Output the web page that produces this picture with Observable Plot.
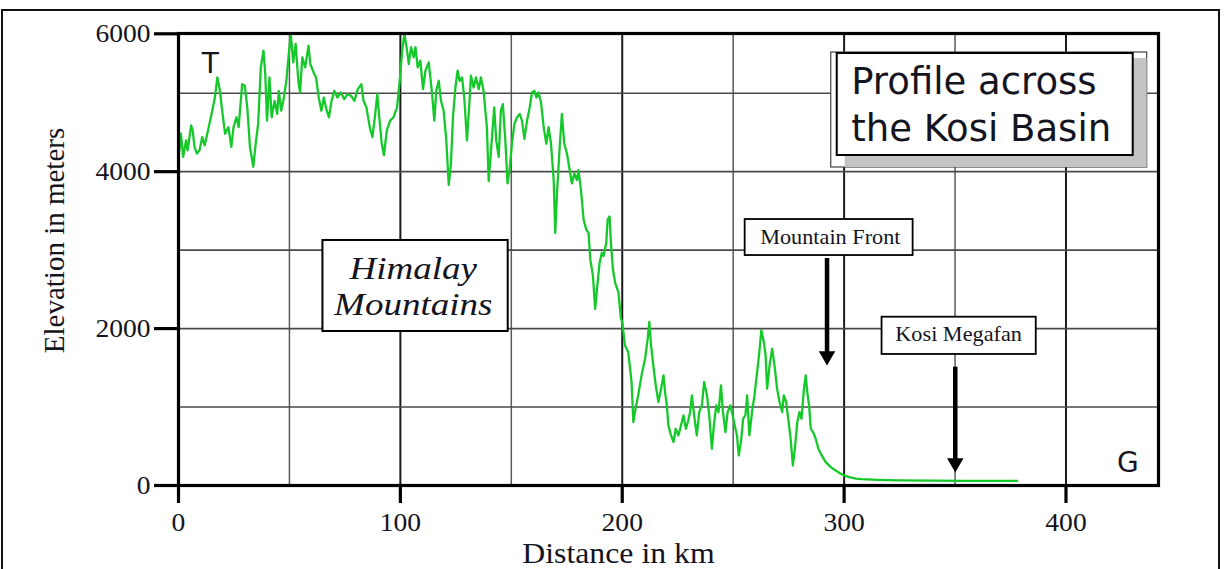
<!DOCTYPE html>
<html><head><meta charset="utf-8">
<script src="https://cdn.jsdelivr.net/npm/d3@7"></script>
<script src="https://cdn.jsdelivr.net/npm/@observablehq/plot@0.6"></script>
<style>
html,body{margin:0;padding:0;background:#fff;}
#wrap{position:relative;width:1225px;height:569px;overflow:hidden;background:#fff;}
#chart{position:absolute;left:0;top:0;}
#border{position:absolute;left:1px;top:9px;width:1219px;height:640px;border:2px solid #111;box-sizing:border-box;}
</style></head><body>
<div id="wrap"><div id="chart"></div><div id="border"></div></div>
<script>
// ---- data: profile across the Kosi Basin ----
const distanceKm = [
0.3,1.1,2.1,3.4,4.1,5.7,6.4,7.2,8.3,9.5,10.7,11.8,13.3,14.9,16.4,17.5,18.7,19.5,21.0,22.5,23.8,24.8,26.1,27.1,28.7,29.9,31.0,32.2,33.7,34.8,35.9,37.1,38.3,39.1,39.9,41.0,42.0,43.3,44.5,45.2,46.3,47.5,48.6,49.7,50.6,51.7,52.8,54.0,54.8,55.8,57.1,58.6,59.4,60.9,62.0,63.2,64.4,65.5,66.6,67.8,69.0,70.2,71.6,73.2,74.7,76.2,77.8,79.3,80.8,82.4,83.4,84.7,86.2,87.4,88.5,89.6,90.5,91.6,92.6,93.9,95.4,96.9,98.5,99.7,
100.8,101.8,102.7,103.8,104.8,106.0,106.8,107.8,109.0,110.2,111.3,112.8,114.3,115.3,116.2,117.3,118.3,119.5,120.7,121.8,122.8,123.7,124.8,125.8,126.7,127.8,128.8,130.0,130.9,131.8,133.0,134.1,135.3,136.3,137.5,138.3,139.0,139.8,141.3,142.3,143.2,144.3,145.3,146.2,147.3,148.3,149.2,150.3,151.4,152.6,153.8,154.8,155.9,157.1,158.3,159.3,160.4,161.3,162.3,163.4,164.6,165.8,166.8,167.9,169.1,169.8,170.6,171.8,172.8,173.9,175.1,176.3,177.3,178.4,179.6,180.3,181.4,182.6,183.8,184.8,185.6,186.8,187.8,188.9,189.8,190.8,191.6,192.8,193.4,194.3,194.9,195.8,196.8,198.3,199.4,
200.0,201.2,202.7,204.2,205.0,206.0,207.2,208.7,210.3,211.5,212.2,213.0,214.0,215.1,216.3,217.5,218.6,219.3,220.1,220.8,222.0,223.1,224.1,225.3,226.5,227.6,228.7,229.6,230.6,231.4,232.4,233.6,234.7,235.9,236.9,238.2,239.2,240.4,241.3,242.4,243.4,244.5,245.4,246.5,247.5,248.7,249.8,250.7,251.7,252.5,253.5,254.5,255.5,256.3,257.3,258.5,259.6,260.8,261.8,262.7,263.8,264.6,265.3,266.4,267.6,268.8,269.8,270.9,272.1,272.8,273.9,274.8,275.9,276.9,277.8,278.9,279.9,280.8,281.9,282.7,283.4,284.2,285.0,286.0,287.2,288.4,289.9,291.7,294.0,296.2,298.5,300.0,302.3,305.3,
308,315,325,340,355,370,378
];
const elevationM = [
4250,4483,4189,4399,4273,4588,4525,4315,4231,4273,4441,4336,4525,4735,4945,5265,5040,4819,4483,4567,4315,4567,4693,4567,5153,5124,4819,4315,4063,4357,4609,5435,5718,5322,4651,5265,4693,4903,4735,5040,4777,4945,5209,5661,6000,5520,5831,5209,5011,5604,5435,5802,5491,5350,5265,4945,4777,4945,4798,4693,4903,5040,4945,5011,4924,4987,4966,4903,5068,5153,4903,4819,4567,4441,4693,4987,4693,4357,4210,4525,4651,4693,4819,5209,
5715,6000,5800,5491,5774,5604,5774,5435,5548,5068,5378,5520,4987,4651,5040,5209,4903,4777,4398,3830,4103,4693,5096,5378,5209,5265,4945,4398,4777,5294,5096,5265,5068,5265,5040,4777,4566,3880,4440,4819,4398,4188,4777,4861,4398,3851,4019,4356,4608,4693,4735,4651,4419,4651,4819,5011,5040,4945,5011,4882,4566,4356,4566,4356,3893,3220,3724,4314,4735,4356,4229,4019,3851,3977,3893,4019,3766,3387,3261,3219,2882,2672,2251,2587,2840,2966,2924,3093,3387,3429,3093,2756,2587,2461,2124,
2085,1787,1702,1319,809,979,1149,1404,1617,1872,2085,1787,1532,1277,1064,1234,1404,1191,1021,766,638,553,723,638,766,894,723,809,936,1149,894,638,936,1021,1319,1149,894,468,766,1021,936,1277,936,681,936,1021,894,766,638,383,553,851,894,1149,638,936,1149,1447,1702,1979,1830,1660,1234,1532,1745,1489,1234,1064,936,1149,1064,851,596,255,468,809,936,851,1234,1404,1191,1021,723,681,596,468,383,298,234,191,149,128,106,88,
80,72,66,62,60,58,58
];

// ---- axes ----
const xTicks = [0, 100, 200, 300, 400];
const yTicks = [0, 2000, 4000, 6000];
const xMajorGrid = [100, 200, 300, 400];
const xMinorGrid = [50, 150, 250, 350];
const yGrid = [1000, 2000, 3000, 4000, 5000];
const xTitle = "Distance in km";
const yTitle = "Elevation in meters";

// ---- annotations (in data units: km, m) ----
const titleText = "Profile across\nthe Kosi Basin";
const titleBox = {x1: 296.9, x2: 430.3, y1: 4206, y2: 5668};
const titleOuter = {x1: 294.2, x2: 436.6, y1: 4053, y2: 5685};
const titleShadow = {x1: 300.5, x2: 436.6, y1: 4053, y2: 5584};
const titleAnchor = {x: 303.2, y: 4397};

const regionText = "Himalay\nMountains";
const regionBox = {x1: 65.1, x2: 148.6, y1: 1963, y2: 3123};
const regionAnchor = {x: 105.8, y: 2167};

const calloutLabels = ["Mountain Front", "Kosi Megafan"];
const calloutX1 = [255.4, 317.1];
const calloutX2 = [331.1, 386.6];
const calloutY1 = [2931, 1670];
const calloutY2 = [3390, 2145];
const calloutTextX = [293.8, 351.6];
const calloutTextY = [3081, 1848];
const arrowX = [292.3, 350.1];
const arrowTop = [2893, 1508];
const arrowTip = [1529, 166];

const endLabels = ["T", "G"];
const endX = [14.3, 427.9];
const endY = [5348, 166];

// ---- build ----
const profile = distanceKm.map((d, i) => ({km: d, m: elevationM[i]}));
const callouts = calloutLabels.map((t, i) => ({
  t, x1: calloutX1[i], x2: calloutX2[i], y1: calloutY1[i], y2: calloutY2[i],
  tx: calloutTextX[i], ty: calloutTextY[i],
  ax: arrowX[i], top: arrowTop[i], tip: arrowTip[i], shaftEnd: arrowTip[i] + 100
}));
const ends = endLabels.map((t, i) => ({t, x: endX[i], y: endY[i]}));

const serif = "'Liberation Serif','Times New Roman',Times,serif";
const sans = "'DejaVu Sans',Verdana,sans-serif";
const ink = "#141420";
const fmt = d => String(d);

const plot = Plot.plot({
  width: 1225, height: 569,
  marginLeft: 178, marginRight: 67, marginTop: 33, marginBottom: 84,
  style: {background: "transparent", overflow: "visible"},
  x: {type: "linear", domain: [0, 441.7]},
  // the reference's vertical axis is compressed above 5000 m
  y: {type: "linear", domain: [0, 5000, 6000], range: [485, 92.7, 33.3]},
  marks: [
    Plot.gridX(xMinorGrid, {stroke: "#5a5a5a", strokeWidth: 1.5, strokeOpacity: 1}),
    Plot.gridX(xMajorGrid, {stroke: "#1a1a1a", strokeWidth: 2, strokeOpacity: 1}),
    Plot.gridY(yGrid, {stroke: "#4a4a4a", strokeWidth: 1.6, strokeOpacity: 1}),
    Plot.line(profile, {x: "km", y: "m", stroke: "#16c92b", strokeWidth: 2.3}),

    // title box with shadow
    Plot.rect([titleOuter], {x1: "x1", x2: "x2", y1: "y1", y2: "y2", fill: "white", stroke: "#444", strokeWidth: 1.2}),
    Plot.rect([titleShadow], {x1: "x1", x2: "x2", y1: "y1", y2: "y2", fill: "#c3c3c3"}),
    Plot.rect([titleBox], {x1: "x1", x2: "x2", y1: "y1", y2: "y2", fill: "white", stroke: "black", strokeWidth: 2}),
    Plot.text([titleAnchor], {x: "x", y: "y", text: () => titleText, textAnchor: "start", lineAnchor: "bottom",
      lineHeight: 1.27, fontSize: 37, fontFamily: sans, fill: ink}),

    // region label
    Plot.rect([regionBox], {x1: "x1", x2: "x2", y1: "y1", y2: "y2", fill: "white", stroke: "black", strokeWidth: 2}),
    Plot.text([regionAnchor], {x: "x", y: "y", text: () => regionText, textAnchor: "middle", lineAnchor: "bottom",
      lineHeight: 1.13, fontSize: 32.5, fontStyle: "italic", fontFamily: serif, fill: ink}),

    // callouts with arrows
    Plot.rect(callouts, {x1: "x1", x2: "x2", y1: "y1", y2: "y2", fill: "white", stroke: "black", strokeWidth: 1.8}),
    Plot.text(callouts, {x: "tx", y: "ty", text: "t", textAnchor: "middle", lineAnchor: "bottom",
      fontSize: 21, fontFamily: serif, fill: ink}),
    Plot.ruleX(callouts, {x: "ax", y1: "top", y2: "shaftEnd", stroke: "black", strokeWidth: 4.5}),
    Plot.dot(callouts, {x: "ax", y: "tip", symbol: "triangle", r: 6.1, rotate: 180, dy: -9.5, fill: "black", stroke: "none"}),

    // end labels
    Plot.text(ends, {x: "x", y: "y", text: "t", textAnchor: "middle", lineAnchor: "bottom",
      fontSize: 28, fontFamily: sans, fill: ink}),

    Plot.frame({stroke: "black", strokeWidth: 3.2}),

    Plot.axisX(xTicks, {tickSize: 18, tickPadding: 9, strokeWidth: 3.2, stroke: "black", fill: ink,
      fontSize: 26, fontFamily: serif, tickFormat: fmt, label: null}),
    Plot.axisY(yTicks, {tickSize: 24, tickPadding: 4, strokeWidth: 3.2, stroke: "black", fill: ink,
      fontSize: 26, fontFamily: serif, tickFormat: fmt, label: null}),

    Plot.text([xTitle], {frameAnchor: "bottom", text: d => d, dx: -50, dy: 77, lineAnchor: "bottom",
      fontSize: 30, fontFamily: serif, fill: ink}),
    Plot.text([yTitle], {frameAnchor: "left", text: d => d, rotate: -90, textAnchor: "middle", lineAnchor: "middle",
      dx: -124, dy: -19, fontSize: 29, fontFamily: serif, fill: ink})
  ]
});

document.getElementById("chart").append(plot);

// widen glyphs horizontally to match the reference's stretched lettering
plot.querySelectorAll("text").forEach(t => {
  const tr = t.getAttribute("transform");
  if (!tr || tr.includes("rotate")) return;
  const cs = getComputedStyle(t);
  let f = 1;
  if (cs.fontStyle === "italic") f = 1.14;
  else if (cs.fontFamily.includes("Serif")) f = 1.06;
  if (f !== 1) t.setAttribute("transform", tr + ` scale(${f},1)`);
});
</script>
</body></html>
